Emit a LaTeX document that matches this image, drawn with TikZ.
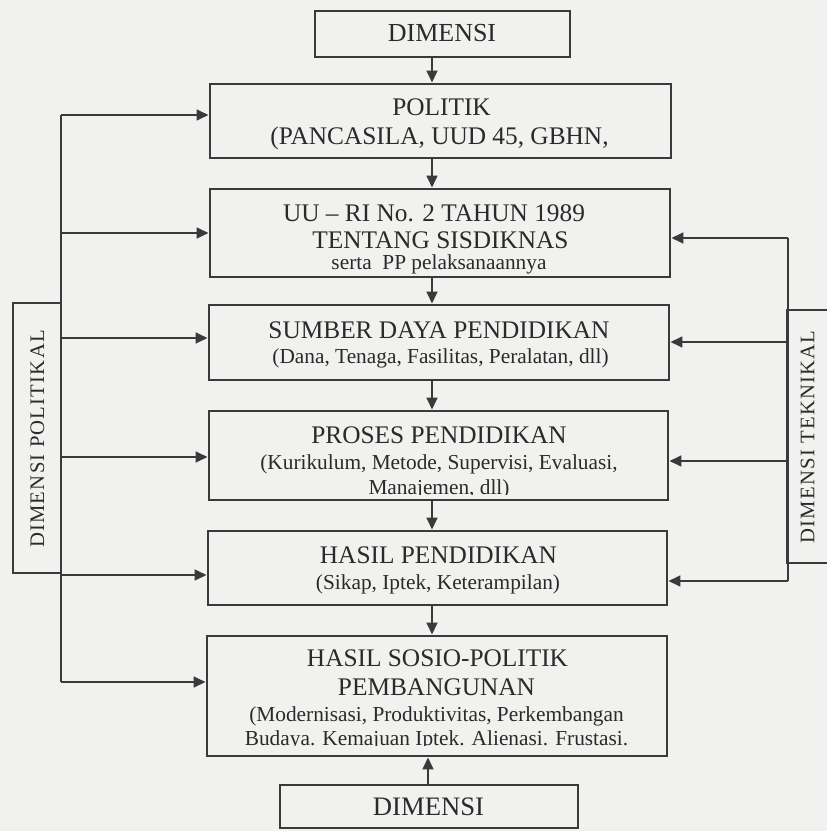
\documentclass[tikz,border=0pt]{standalone}
\usepackage{fontspec}
\setmainfont{Liberation Serif}
\usetikzlibrary{arrows.meta}
\definecolor{ink}{HTML}{3A3A3A}
\definecolor{paper}{HTML}{F1F1EF}
\definecolor{txt}{HTML}{2A2A2A}
\begin{document}
\begin{tikzpicture}[x=0.75pt,y=-0.75pt,
  box/.style={draw=ink, line width=2.1pt, rectangle, inner sep=0pt},
  conn/.style={draw=ink, line width=1.9pt},
  arr/.style={conn, -{Triangle[length=9pt,width=8pt]}},
  ttltext/.style={anchor=base, text=txt, font=\fontsize{19}{22}\selectfont, inner sep=0pt},
  subtext/.style={anchor=base, text=txt, font=\fontsize{16}{19}\selectfont, inner sep=0pt},
  sidetext/.style={text=txt, font=\fontsize{15.5}{18}\selectfont\addfontfeature{LetterSpace=6}, rotate=90, inner sep=0pt}
]
\path[fill=paper, use as bounding box] (0,0) rectangle (827,831);
\clip (0,0) rectangle (827,831);

% ---- texts ----
\node[ttltext, font=\fontsize{19.5}{22}\selectfont] (t1) at (442,42) {DIMENSI};
\node[ttltext] (t2) at (441.5,116) {POLITIK};
\node[ttltext] (t3) at (439.5,145) {(PANCASILA, UUD 45, GBHN,};
\node[ttltext] (t4) at (434,221) {UU – RI No. 2 TAHUN 1989};
\node[ttltext] (t5) at (440.5,248) {TENTANG SISDIKNAS};
\node[subtext] (t6) at (439,269) {serta\ \ PP\ pelaksanaannya};
\node[ttltext] (t7) at (439,338) {SUMBER DAYA PENDIDIKAN};
\node[subtext] (t8) at (440.5,363) {(Dana, Tenaga, Fasilitas, Peralatan, dll)};
\node[ttltext] (t9) at (439,443) {PROSES PENDIDIKAN};
\node[subtext] (t10) at (439,469) {(Kurikulum, Metode, Supervisi, Evaluasi,};
\begin{scope}
\clip (200,470) rectangle (680,494.5);
\node[subtext] (t11) at (439,494) {Manajemen, dll)};
\end{scope}
\node[ttltext] (t12) at (438.5,563) {HASIL PENDIDIKAN};
\node[subtext] (t13) at (438,589) {(Sikap, Iptek, Keterampilan)};
\node[ttltext] (t14) at (437.5,666) {HASIL SOSIO-POLITIK};
\node[ttltext] (t15) at (436.5,695) {PEMBANGUNAN};
\node[subtext] (t16) at (436.5,721) {(Modernisasi, Produktivitas, Perkembangan};
\begin{scope}
\clip (200,722) rectangle (680,745.5);
\node[subtext] (t17) at (436.5,745) {Budaya. Kemajuan Iptek. Alienasi. Frustasi.};
\end{scope}
\node[ttltext, font=\fontsize{20}{22}\selectfont] (t18) at (428.5,815) {DIMENSI};
\node[sidetext] (t19) at (37.5,439) {DIMENSI POLITIKAL};
\node[sidetext] (t20) at (807.5,437) {DIMENSI TEKNIKAL};

% ---- boxes ----
\node[box, minimum width=191.25pt, minimum height=34.5pt] (topdim) at (442.5,34) {};
\node[box, minimum width=345.75pt, minimum height=55.5pt] (politik) at (440.5,121) {};
\node[box, minimum width=345pt, minimum height=66pt] (uu) at (440,233) {};
\node[box, minimum width=345pt, minimum height=56.25pt] (sumber) at (439,342.5) {};
\node[box, minimum width=344.25pt, minimum height=66.75pt] (proses) at (438.5,455.5) {};
\node[box, minimum width=344.25pt, minimum height=55.5pt] (hasil) at (437.5,568) {};
\node[box, minimum width=345pt, minimum height=90pt] (sosio) at (437,696) {};
\node[box, minimum width=223.5pt, minimum height=32.25pt] (botdim) at (429,806.5) {};
\node[box, minimum width=36pt, minimum height=202.5pt] (polbox) at (37,438) {};
\node[box, minimum width=47.25pt, minimum height=189.75pt] (tekbox) at (818.5,436.5) {};

% ---- central arrows ----
\coordinate (cx) at (432,0);
\coordinate (cb) at (428,0);
\draw[arr] (topdim.south -| cx) -- (politik.north -| cx);
\draw[arr] (politik.south -| cx) -- (uu.north -| cx);
\draw[arr] (uu.south -| cx) -- (sumber.north -| cx);
\draw[arr] (sumber.south -| cx) -- (proses.north -| cx);
\draw[arr] (proses.south -| cx) -- (hasil.north -| cx);
\draw[arr] (hasil.south -| cx) -- (sosio.north -| cx);
\draw[arr] (botdim.north -| cb) -- (sosio.south -| cb);

% ---- left side ----
\coordinate (L1) at (61,115);
\coordinate (L2) at (61,233);
\coordinate (L3) at (61,338);
\coordinate (L4) at (61,457);
\coordinate (L5) at (61,575);
\coordinate (L6) at (61,682);
\draw[conn] (L1) -- (L6);
\draw[arr] (L1) -- (L1 -| politik.west);
\draw[arr] (L2) -- (L2 -| uu.west);
\draw[arr] (L3) -- (L3 -| sumber.west);
\draw[arr] (L4) -- (L4 -| proses.west);
\draw[arr] (L5) -- (L5 -| hasil.west);
\draw[arr] (L6) -- (L6 -| sosio.west);

% ---- right side ----
\coordinate (R1) at (788,238);
\coordinate (R2) at (788,342);
\coordinate (R3) at (788,461);
\coordinate (R4) at (788,581);
\draw[conn] (R1) -- (R4);
\draw[arr] (R1) -- (R1 -| uu.east);
\draw[arr] (R2) -- (R2 -| sumber.east);
\draw[arr] (R3) -- (R3 -| proses.east);
\draw[arr] (R4) -- (R4 -| hasil.east);
\end{tikzpicture}
\end{document}
